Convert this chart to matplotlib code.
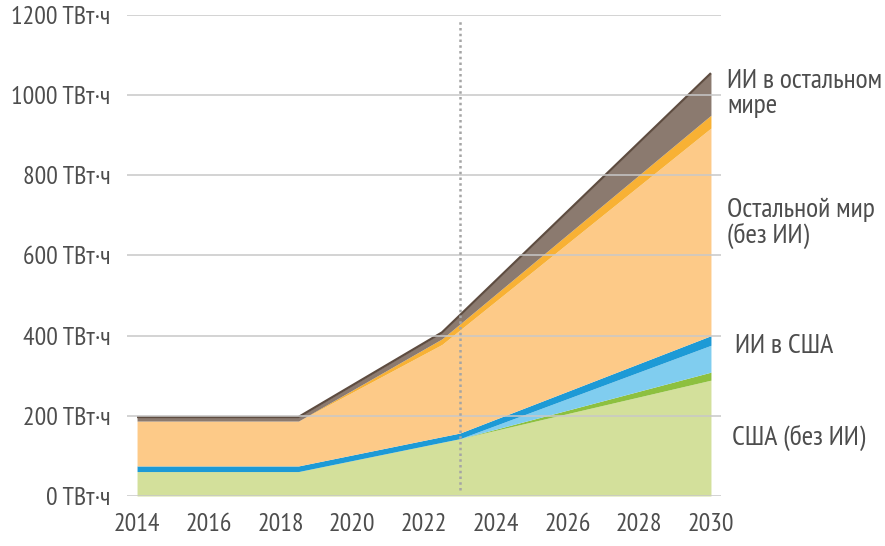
import matplotlib
matplotlib.use("Agg")
import numpy as np
import matplotlib.pyplot as plt

plt.rcParams['font.family'] = ['PT Sans Narrow', 'Roboto Condensed', 'Open Sans Condensed',
                               'Sofia Sans Condensed', 'DejaVu Sans']

# years with a visible kink in the picture
years = [2014, 2018.5, 2022.5, 2023, 2030]

# band thicknesses, TWh, bottom to top
us_base = [61, 61, 134, 143, 289]        # США (без ИИ)
us_base_edge = [0, 0, 0, 0, 20]
us_ai = [0, 0, 0, 0, 67]                 # ИИ в США
us_ai_edge = [14, 14, 14, 14, 24]
row_base = [112, 112, 230, 257, 518]     # Остальной мир (без ИИ)
row_base_edge = [0, 0, 14, 15, 32]
row_ai = [10, 10, 16, 22, 105]           # ИИ в остальном мире

band_colors = ['#d3e09b', '#8dc03f', '#80cdef', '#1d9ad6',
               '#fdca88', '#f8b134', '#8b7a6f']

y_ticks = [0, 200, 400, 600, 800, 1000, 1200]
x_ticks = [2014, 2016, 2018, 2020, 2022, 2024, 2026, 2028, 2030]

# label text, left x and baseline of last line (pixels)
labels = [("ИИ в остальном\nмире", 727, 113),
          ("Остальной мир\n(без ИИ)", 727, 243),
          ("ИИ в США", 735, 353),
          ("США (без ИИ)", 732, 445)]

W, H = 885, 546
fig = plt.figure(figsize=(W / 100, H / 100), dpi=100)
ax = fig.add_axes([127 / W, 50 / H, (721 - 127) / W, (496 - 15) / H])

bands = [us_base, us_base_edge, us_ai, us_ai_edge, row_base, row_base_edge, row_ai]
low = np.zeros(len(years))
for band, col in zip(bands, band_colors):
    high = low + np.array(band)
    ax.fill_between(years, low, high, color=col, lw=0, zorder=2)
    low = high
ax.plot(years, low, color='#5e4c40', lw=1.6, zorder=3, solid_capstyle='butt')

for v in y_ticks:
    ax.axhline(v, color='#c8c8c8', lw=1.1, zorder=4)

ax.vlines(2023, 15, 1188, color='#a5a5a5', lw=1.8,
          linestyles=(0, (1, 1.3)), zorder=5)

ax.set_xlim(2013.72, 2030.28)
ax.set_ylim(0, 1200)
ax.set_yticks(y_ticks)
ax.set_yticklabels([f"{v} ТВт·ч" for v in y_ticks])
ax.set_xticks(x_ticks)
ax.set_xticklabels([str(x) for x in x_ticks])
ax.tick_params(axis='y', length=0, pad=12, labelsize=18.5, labelcolor='#4d4d4d')
ax.tick_params(axis='x', length=0, pad=12, labelsize=18.5, labelcolor='#4d4d4d')
for s in ax.spines.values():
    s.set_visible(False)

for text, px, py in labels:
    fig.text(px / W, 1 - py / H, text, ha='left', va='baseline',
             fontsize=20, color='#4d4d4d', linespacing=1.04)

fig.savefig("out.png", dpi=100)
